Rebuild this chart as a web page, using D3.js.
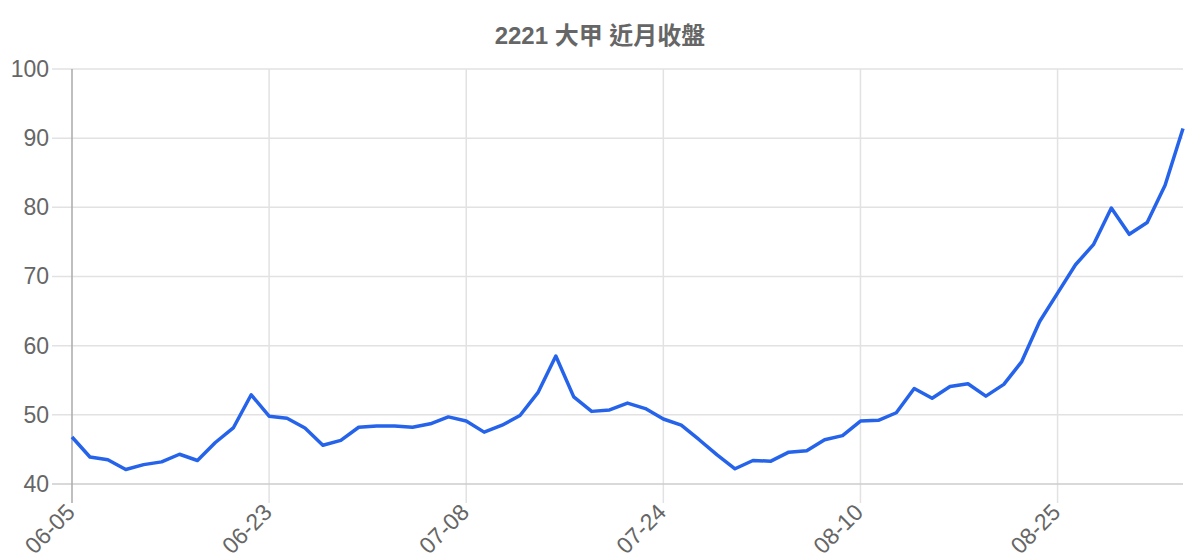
<!DOCTYPE html>
<html>
<head>
<meta charset="utf-8">
<script src="https://cdn.jsdelivr.net/npm/d3@7"></script>
<style>
  body { margin: 0; background: #fff; }
  svg { display: block; font-family: "Liberation Sans", Arial, sans-serif; }
</style>
</head>
<body>
<div id="chart"></div>
<script>
//////////////////////////// data /////////////////////////////////////////

const title = "2221 大甲 近月收盤";

const dates = [
	"06-05", "06-08", "06-09", "06-10", "06-11", "06-12", "06-15", "06-16", "06-17", "06-18", "06-22",
	"06-23", "06-24", "06-25", "06-26", "06-29", "06-30", "07-01", "07-02", "07-03", "07-06", "07-07",
	"07-08", "07-09", "07-10", "07-13", "07-14", "07-15", "07-17", "07-20", "07-21", "07-22", "07-23",
	"07-24", "07-27", "07-28", "07-29", "07-30", "07-31", "08-03", "08-04", "08-05", "08-06", "08-07",
	"08-10", "08-11", "08-12", "08-13", "08-14", "08-17", "08-18", "08-19", "08-20", "08-21", "08-24",
	"08-25", "08-26", "08-27", "08-28", "08-31", "09-01", "09-02", "09-03"
];

const closes = [
	46.8, 43.9, 43.5, 42.1, 42.8, 43.2, 44.3, 43.4, 46.0, 48.1, 52.9,
	49.8, 49.5, 48.1, 45.6, 46.3, 48.2, 48.4, 48.4, 48.2, 48.7, 49.7,
	49.1, 47.5, 48.5, 49.9, 53.2, 58.5, 52.6, 50.5, 50.7, 51.7, 50.9,
	49.4, 48.5, 46.4, 44.2, 42.2, 43.4, 43.3, 44.6, 44.8, 46.4, 47.0,
	49.1, 49.2, 50.3, 53.8, 52.4, 54.1, 54.5, 52.7, 54.4, 57.7, 63.5,
	67.6, 71.7, 74.6, 79.9, 76.1, 77.8, 83.2, 91.4
];

const yTicks = [40, 50, 60, 70, 80, 90, 100];
const labelEvery = 11;

//////////////////////////// sizes ////////////////////////////////////////

const dimensions = {
	width: 1200,
	height: 560,
	margin: { top: 69, right: 17, bottom: 76, left: 72 }
};
dimensions.boundedWidth = dimensions.width - dimensions.margin.left - dimensions.margin.right;
dimensions.boundedHeight = dimensions.height - dimensions.margin.top - dimensions.margin.bottom;

//////////////////////////// svg //////////////////////////////////////////

const svg = d3.select("#chart").append("svg")
	.attr("width", dimensions.width)
	.attr("height", dimensions.height);

const bounds = svg.append("g")
	.attr("transform", `translate(${dimensions.margin.left},${dimensions.margin.top})`);

//////////////////////////// scales ///////////////////////////////////////

const xScale = d3.scalePoint()
	.domain(dates)
	.range([0, dimensions.boundedWidth]);

const yScale = d3.scaleLinear()
	.domain([40, 100])
	.range([dimensions.boundedHeight, 0]);

const shownDates = dates.filter((d, i) => i % labelEvery === 0);

//////////////////////////// grid /////////////////////////////////////////

bounds.append("g")
	.selectAll("line")
	.data(yTicks.slice(1))
	.join("line")
	.attr("x1", -20)
	.attr("x2", dimensions.boundedWidth)
	.attr("y1", (d) => yScale(d))
	.attr("y2", (d) => yScale(d))
	.attr("stroke", "#e2e2e2")
	.attr("stroke-width", 1.5);

bounds.append("g")
	.selectAll("line")
	.data(shownDates.slice(1))
	.join("line")
	.attr("x1", (d) => xScale(d))
	.attr("x2", (d) => xScale(d))
	.attr("y1", 0)
	.attr("y2", dimensions.boundedHeight + 19)
	.attr("stroke", "#e2e2e2")
	.attr("stroke-width", 1.5);

// axis lines
bounds.append("line")
	.attr("x1", -20)
	.attr("x2", dimensions.boundedWidth)
	.attr("y1", dimensions.boundedHeight)
	.attr("y2", dimensions.boundedHeight)
	.attr("stroke", "#cccccc")
	.attr("stroke-width", 1.5);

bounds.append("line")
	.attr("x1", 0)
	.attr("x2", 0)
	.attr("y1", 0)
	.attr("y2", dimensions.boundedHeight + 19)
	.attr("stroke", "#aaaaaa")
	.attr("stroke-width", 1.5);

//////////////////////////// axes labels //////////////////////////////////

const yAxis = d3.axisLeft(yScale).tickValues(yTicks).tickSize(0).tickPadding(23);
const yG = bounds.append("g").call(yAxis);
yG.select(".domain").remove();
yG.selectAll("text")
	.attr("fill", "#666")
	.style("font-size", "23px")
	.style("font-family", "'Liberation Sans', Arial, sans-serif");

const xAxis = d3.axisBottom(xScale).tickValues(shownDates).tickSize(0);
const xG = bounds.append("g")
	.attr("transform", `translate(0,${dimensions.boundedHeight})`)
	.call(xAxis);
xG.select(".domain").remove();
xG.selectAll("text")
	.attr("fill", "#666")
	.style("font-size", "23px")
	.style("font-family", "'Liberation Sans', Arial, sans-serif")
	.attr("text-anchor", "end")
	.attr("y", 0)
	.attr("dy", "0.35em")
	.attr("transform", "translate(-2,24) rotate(-45)");

//////////////////////////// line /////////////////////////////////////////

const lineGen = d3.line()
	.x((d, i) => xScale(dates[i]))
	.y((d) => yScale(d));

bounds.append("path")
	.datum(closes)
	.attr("d", lineGen)
	.attr("fill", "none")
	.attr("stroke", "#2563eb")
	.attr("stroke-width", 3.5)
	.attr("stroke-linejoin", "round");

//////////////////////////// title ////////////////////////////////////////

svg.append("text")
	.attr("x", 600)
	.attr("y", 44)
	.attr("text-anchor", "middle")
	.attr("fill", "#666")
	.style("font-size", "24px")
	.style("font-weight", "bold")
	.style("font-family", "'Liberation Sans', 'Noto Sans CJK TC', sans-serif")
	.text(title);
</script>
</body>
</html>
